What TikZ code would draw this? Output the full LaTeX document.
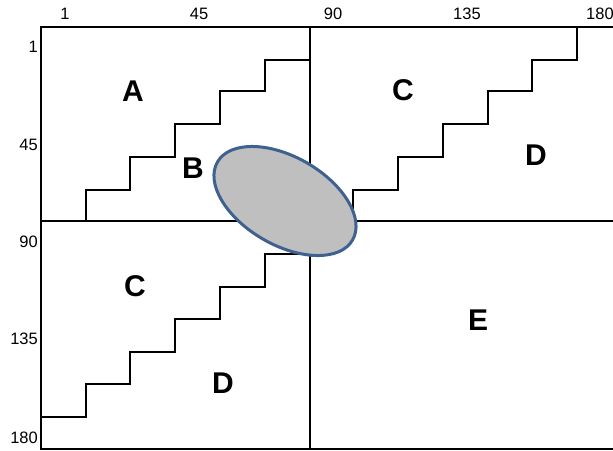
\documentclass[tikz,border=0pt]{standalone}
\usepackage{fontspec}
\setmainfont{Liberation Sans}
\definecolor{ellline}{HTML}{3F6190}
\definecolor{ellfill}{HTML}{BFBFBF}
\begin{document}
\begin{tikzpicture}[x=1pt,y=-1pt,
  frame/.style={line width=2pt},
  stair/.style={line width=2pt},
  ell/.style={line width=3pt, draw=ellline, fill=ellfill},
  region/.style={font=\bfseries\fontsize{30}{30}\selectfont, inner sep=0pt},
  tick/.style={font=\fontsize{16.5}{16.5}\selectfont, inner sep=0pt}]
\useasboundingbox (0,0) rectangle (613,450);
\clip (0,0) rectangle (613,450);
% frame
\draw[frame] (40,27) -- (620,27);
\draw[frame] (41,26) -- (41,450);
\draw[frame] (40,449) -- (620,449);
\draw[frame] (40,221) -- (620,221);
\draw[frame] (309.5,26) -- (309.5,450);
% stairs
\draw[stair] (86,221) -- (86,190) -- (130,190) -- (130,157) -- (175,157) -- (175,124) -- (220,124) -- (220,91) -- (265,91) -- (265,60) -- (309.5,60);
\draw[stair] (353,221) -- (353,190) -- (398,190) -- (398,157) -- (443,157) -- (443,124) -- (488,124) -- (488,91) -- (532,91) -- (532,60) -- (577,60) -- (577,27);
\draw[stair] (41,417) -- (86,417) -- (86,384) -- (130,384) -- (130,352) -- (175,352) -- (175,319) -- (220,319) -- (220,287) -- (265,287) -- (265,254) -- (309.5,254);
% ellipse
\draw[ell, rotate around={-30:(285,201)}] (285,201) ellipse [x radius=78, y radius=44];
% region labels
\node[region] (A) at (133,91) {A};
\node[region] (B) at (193,168) {B};
\node[region] (C1) at (403,90) {C};
\node[region] (D1) at (536,155) {D};
\node[region] (C2) at (135,286) {C};
\node[region] (D2) at (223,383) {D};
\node[region] (E) at (478,320) {E};
% ticks
\node[tick] (t1) at (65,14) {1};
\node[tick] (t45) at (199,14) {45};
\node[tick] (t90) at (333,14) {90};
\node[tick] (t135) at (467,14) {135};
\node[tick] (t180) at (600,14) {180};
\node[tick, anchor=east] (l1) at (38,47) {1};
\node[tick, anchor=east] (l45) at (38,145) {45};
\node[tick, anchor=east] (l90) at (38,242) {90};
\node[tick, anchor=east] (l135) at (38,339) {135};
\node[tick, anchor=east] (l180) at (38,438) {180};
\end{tikzpicture}
\end{document}
